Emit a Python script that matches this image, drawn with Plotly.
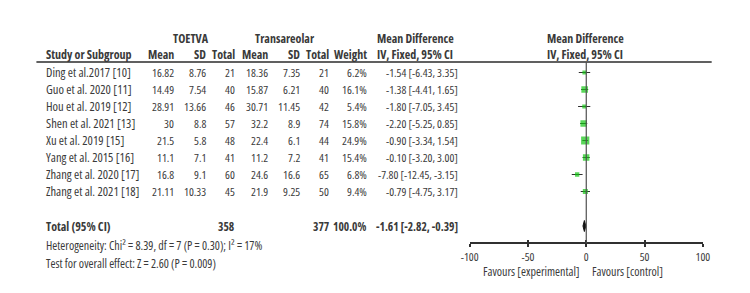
import plotly.graph_objects as go

# ---------------- data ----------------
studies = ["Ding et al.2017 [10]", "Guo et al. 2020 [11]", "Hou et al. 2019 [12]",
           "Shen et al. 2021 [13]", "Xu et al. 2019 [15]", "Yang et al. 2015 [16]",
           "Zhang et al. 2020 [17]", "Zhang et al. 2021 [18]"]
exp_mean = ["16.82", "14.49", "28.91", "30", "21.5", "11.1", "16.8", "21.11"]
exp_sd = ["8.76", "7.54", "13.66", "8.8", "5.8", "7.1", "9.1", "10.33"]
exp_n = [21, 40, 46, 57, 48, 41, 60, 45]
ctl_mean = ["18.36", "15.87", "30.71", "32.2", "22.4", "11.2", "24.6", "21.9"]
ctl_sd = ["7.35", "6.21", "11.45", "8.9", "6.1", "7.2", "16.6", "9.25"]
ctl_n = [21, 40, 42, 74, 44, 41, 65, 50]
weights = [6.2, 16.1, 5.4, 15.8, 24.9, 15.4, 6.8, 9.4]
md = [-1.54, -1.38, -1.80, -2.20, -0.90, -0.10, -7.80, -0.79]
md_lo = [-6.43, -4.41, -7.05, -5.25, -3.34, -3.20, -12.45, -4.75]
md_hi = [3.35, 1.65, 3.45, 0.85, 1.54, 3.00, -3.15, 3.17]
total_exp_n = 358
total_ctl_n = 377
total_weight = 100.0
total_md, total_lo, total_hi = -1.61, -2.82, -0.39
heterogeneity = "Heterogeneity: Chi² = 8.39, df = 7 (P = 0.30); I² = 17%"
overall = "Test for overall effect: Z = 2.60 (P = 0.009)"
tick_vals = [-100, -50, 0, 50, 100]
tick_labels = ["-100", "-50", "0", "50", "100"]

# ---------------- layout constants ----------------
W, H = 750, 293
FONT = "Open Sans, sans-serif"
TXT = "#3a3a3a"
FS_NAME = 12.5
FS_NUM = 11.5
FS_HEAD = 12
row0, rowh = 72.5, 17.0
y_total = 226
y_het, y_test = 245.5, 263.5
y_axis = 243.3
ax_left, ax_right = 470.7, 709.0

rows_y = [row0 + rowh * i for i in range(len(studies))]


def cond(s):
    return f"<span style='font-stretch:condensed'>{s}</span>"


fig = go.Figure()

# CI lines
xs, ys = [], []
for lo, hi, y in zip(md_lo, md_hi, rows_y):
    xs += [lo, hi, None]
    ys += [y, y, None]
fig.add_trace(go.Scatter(x=xs, y=ys, mode="lines", line=dict(color="#303030", width=1.2),
                         hoverinfo="skip", showlegend=False))
# squares
fig.add_trace(go.Scatter(x=md, y=rows_y, mode="markers",
                         marker=dict(symbol="square", color="#13c613",
                                     size=[1.65 * w ** 0.5 for w in weights], line=dict(width=0)),
                         hoverinfo="skip", showlegend=False))
# diamond
fig.add_trace(go.Scatter(x=[total_lo, total_md, total_hi, total_md, total_lo],
                         y=[y_total, y_total - 5.5, y_total, y_total + 5.5, y_total],
                         mode="lines", fill="toself", fillcolor="#111111",
                         line=dict(color="#111111", width=1), hoverinfo="skip", showlegend=False))
# dummy for overlay axis
fig.add_trace(go.Scatter(x=[0], y=[-50], xaxis="x2", mode="markers",
                         marker=dict(opacity=0), hoverinfo="skip", showlegend=False))

ann = []


def t(x, y, s, anchor="right", bold=False, size=FS_NUM):
    txt = f"<b>{s}</b>" if bold else s
    ann.append(dict(x=x / W, y=y, xref="paper", yref="y", text=cond(txt),
                    showarrow=False, xanchor=anchor, yanchor="middle",
                    font=dict(family=FONT, size=size, color=TXT)))


# headers
yh1, yh2 = 38, 54
t(186, yh1, "TOETVA", "center", True, FS_HEAD)
t(282, yh1, "Transareolar", "center", True, FS_HEAD)
t(415, yh1, "Mean Difference", "center", True, FS_HEAD)
t(589, yh1, "Mean Difference", "center", True, FS_HEAD)
t(36, yh2, "Study or Subgroup", "left", True, FS_HEAD)
t(171, yh2, "Mean", "right", True, FS_HEAD)
t(203, yh2, "SD", "right", True, FS_HEAD)
t(233, yh2, "Total", "right", True, FS_HEAD)
t(267, yh2, "Mean", "right", True, FS_HEAD)
t(299, yh2, "SD", "right", True, FS_HEAD)
t(329, yh2, "Total", "right", True, FS_HEAD)
t(368, yh2, "Weight", "right", True, FS_HEAD)
t(415, yh2, "IV, Fixed, 95% CI", "center", True, FS_HEAD)
t(589, yh2, "IV, Fixed, 95% CI", "center", True, FS_HEAD)

for i, y in enumerate(rows_y):
    t(36, y, studies[i], "left", size=FS_NAME)
    t(171, y, exp_mean[i])
    t(203, y, exp_sd[i])
    t(233, y, str(exp_n[i]))
    t(267, y, ctl_mean[i])
    t(299, y, ctl_sd[i])
    t(329, y, str(ctl_n[i]))
    t(368, y, f"{weights[i]:.1f}%")
    t(461, y, f"{md[i]:.2f} [{md_lo[i]:.2f}, {md_hi[i]:.2f}]")

t(36, y_total, "Total (95% CI)", "left", True, FS_HEAD)
t(233, y_total, str(total_exp_n), bold=True)
t(329, y_total, str(total_ctl_n), bold=True)
t(368, y_total, f"{total_weight:.1f}%", bold=True)
t(461, y_total, f"{total_md:.2f} [{total_lo:.2f}, {total_hi:.2f}]", bold=True)
t(36, y_het, heterogeneity, "left", size=FS_HEAD)
t(36, y_test, overall, "left", size=FS_HEAD)
t(585, 271, "Favours [experimental]", "right", size=FS_HEAD)
t(594, 271, "Favours [control]", "left", size=FS_HEAD)

shapes = [
    dict(type="line", xref="paper", yref="y", x0=28 / W, x1=718 / W, y0=62, y1=62,
         line=dict(color="#606060", width=2)),
    dict(type="line", xref="x", yref="y", x0=0, x1=0, y0=62, y1=y_axis,
         line=dict(color="#505050", width=1.2)),
]

tick_text = [cond(s) for s in tick_labels]

dom = [ax_left / W, ax_right / W]
pos = 1 - y_axis / H
fig.update_layout(
    width=W, height=H, margin=dict(l=0, r=0, t=0, b=0),
    paper_bgcolor="white", plot_bgcolor="white",
    annotations=ann, shapes=shapes, showlegend=False,
    xaxis=dict(domain=dom, range=[-100, 100], anchor="free", position=pos,
               showgrid=False, zeroline=False, showline=True, linecolor="#303030", linewidth=1.5,
               ticks="outside", ticklen=3, tickwidth=1.5, tickcolor="#303030",
               tickvals=tick_vals, ticktext=tick_text, tickangle=0,
               tickfont=dict(family=FONT, size=FS_NUM, color=TXT)),
    xaxis2=dict(overlaying="x", range=[-100, 100], anchor="free", position=pos,
                showgrid=False, zeroline=False, showline=False,
                ticks="inside", ticklen=3, tickwidth=1.5, tickcolor="#303030",
                tickvals=tick_vals, showticklabels=False),
    yaxis=dict(domain=[0, 1], range=[H, 0], visible=False, fixedrange=True),
)

fig.write_html("out.html")
